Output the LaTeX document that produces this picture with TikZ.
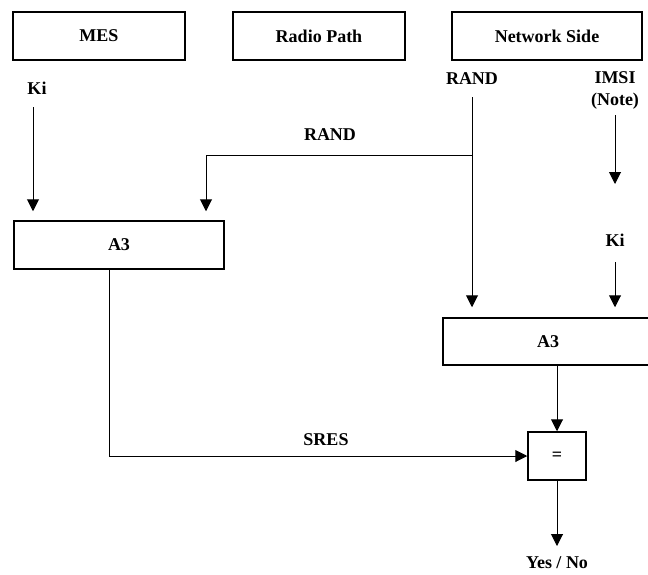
\documentclass[tikz,border=0pt]{standalone}
\usepackage{fontspec}
\setmainfont{Liberation Serif}
\usetikzlibrary{arrows.meta}
\begin{document}
\begin{tikzpicture}[x=1pt,y=-1pt,
  every node/.style={font=\fontsize{18}{22}\selectfont\bfseries, inner sep=0pt},
  box/.style={draw, line width=1.5pt, rectangle, minimum height=48pt},
  conn/.style={line width=1pt, -{Triangle[length=12pt,width=12pt]}},
  wire/.style={line width=1pt}]
\useasboundingbox (0,0) rectangle (648,574);

% top row: the three parties
\node[box, minimum width=172pt] (mes)   at (99,36)  {MES};
\node[box, minimum width=172pt] (radio) at (319,36) {Radio Path};
\node[box, minimum width=190pt] (net)   at (547,36) {Network Side};

% inputs
\node (kiA)   at (37,88)  {Ki};
\node (randN) at (472,79) {RAND};
\node[align=center] (imsi) at (615,90) {IMSI\\(Note)};
\node (randL) at (330,135) {RAND};
\node (kiB)   at (615,240) {Ki};

% algorithm blocks
\node[box, minimum width=210pt] (a3L) at (119,245) {A3};
\node[box, minimum width=210pt, minimum height=47pt] (a3R) at (548,341.5) {A3};
\node[box, minimum width=58pt] (eq) at (557,456) {=};

% labels on the result path
\node (sres) at (326,440) {SRES};
\node (yn)   at (557,563) {Yes / No};

% connector end points
\coordinate (kiAout)  at (33,107);
\coordinate (randTop) at (472,97);
\coordinate (randJn)  at (472,155);
\coordinate (randTn)  at (206,155);
\coordinate (imsiOut) at (615,115);
\coordinate (imsiIn)  at (615,184);
\coordinate (kiBout)  at (615,262);
\coordinate (sresTn)  at (109,456);
\coordinate (ynIn)    at (557,546);

% MES side
\draw[conn, shorten >=9pt] (kiAout) -- (kiAout |- a3L.north);
\draw[conn, shorten >=9pt] (randJn) -- (randTn) -- (randTn |- a3L.north);
\draw[conn] (a3L.south -| sresTn) -- (sresTn) -- (eq.west);

% network side
\draw[conn, shorten >=10pt] (randTop) -- (randTop |- a3R.north);
\draw[conn] (imsiOut) -- (imsiIn);
\draw[conn, shorten >=10pt] (kiBout) -- (kiBout |- a3R.north);
\draw[conn] (a3R.south -| eq.north) -- (eq.north);
\draw[conn] (eq.south) -- (ynIn);
\end{tikzpicture}
\end{document}
